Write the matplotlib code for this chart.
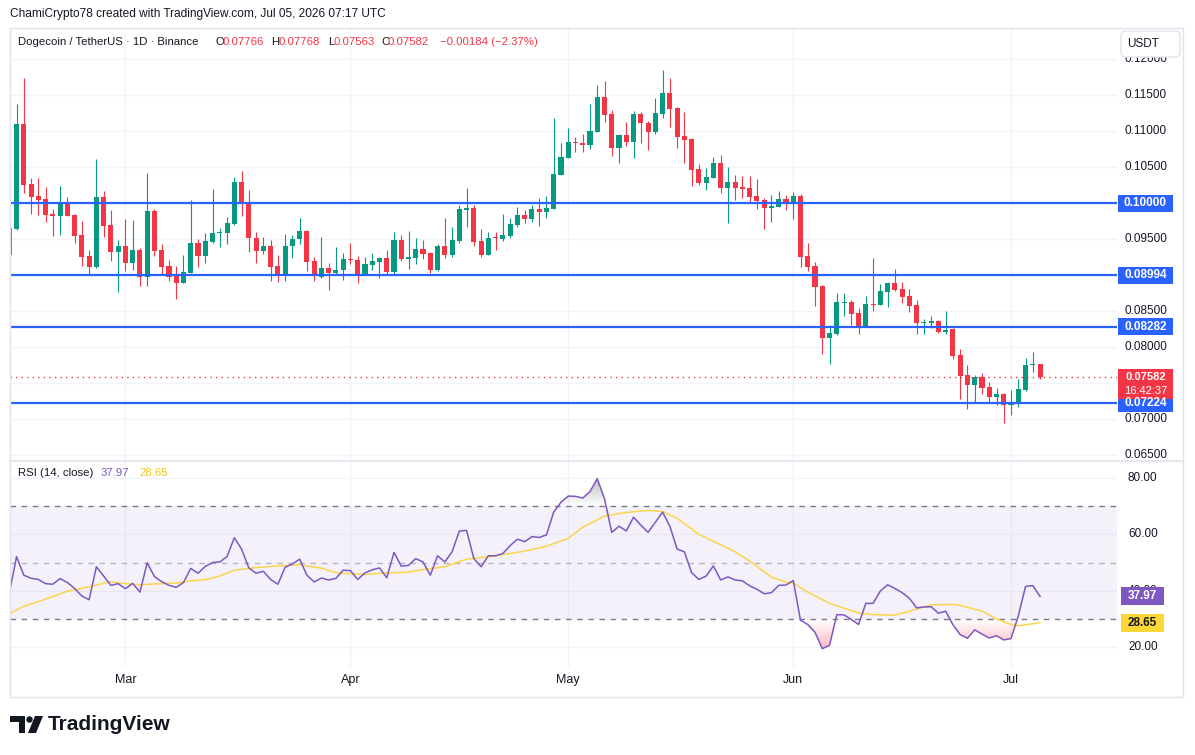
import numpy as np
import pandas as pd
import matplotlib
matplotlib.use('Agg')
import matplotlib.pyplot as plt
import matplotlib.transforms as mtrans
from matplotlib.patches import Rectangle, FancyBboxPatch, Polygon, Circle
from matplotlib.path import Path

plt.rcParams['font.family'] = ['Liberation Sans', 'DejaVu Sans']

# daily candles, first one is Feb 13 2026
start_date = '2026-02-13'
opens = [0.0928, 0.09639, 0.11096, 0.10264, 0.10097, 0.10056, 0.09851, 0.09820, 0.10000, 0.09833,
         0.09556, 0.09264, 0.09116, 0.10087, 0.09699, 0.09324, 0.09403, 0.09171, 0.09348, 0.08977,
         0.09889, 0.09348, 0.09126, 0.09001, 0.08894, 0.09033, 0.09449, 0.09264, 0.09463, 0.09580,
         0.09588, 0.09709, 0.10291, 0.09996, 0.09510, 0.09338, 0.09403, 0.09126, 0.09001, 0.09403,
         0.09496, 0.09616, 0.09195, 0.08977, 0.09098, 0.09024, 0.09070, 0.09223, 0.09209, 0.09015,
         0.09139, 0.09181, 0.09237, 0.09042, 0.09486, 0.09223, 0.09237, 0.09362, 0.09306, 0.09070,
         0.09403, 0.09278, 0.09473, 0.09903, 0.09931, 0.09473, 0.09278, 0.09528, 0.09500, 0.09542,
         0.09695, 0.09833, 0.09778, 0.09917, 0.09875, 0.09917, 0.10393, 0.10629, 0.10851, 0.10833,
         0.10805, 0.10990, 0.11471, 0.11235, 0.10768, 0.10944, 0.10847, 0.11235, 0.11110, 0.10985,
         0.11235, 0.11527, 0.11319, 0.10930, 0.10888, 0.10472, 0.10278, 0.10347, 0.10555, 0.10208,
         0.10291, 0.10226, 0.10208, 0.10097, 0.10042, 0.09935, 0.09949, 0.10056, 0.10018, 0.10097,
         0.09264, 0.09126, 0.08848, 0.08130, 0.08186, 0.08612, 0.08626, 0.08473, 0.08279, 0.08598,
         0.08584, 0.08765, 0.08890, 0.08806, 0.08709, 0.08584, 0.08334, 0.08334, 0.08362, 0.08210,
         0.08251, 0.07890, 0.07613, 0.07478, 0.07589, 0.07450, 0.07312, 0.07353, 0.07200, 0.07214,
         0.07409, 0.07756, 0.07766]
highs = [0.0968, 0.11374, 0.11739, 0.10347, 0.10347, 0.10226, 0.09917, 0.10236, 0.10088, 0.09847,
         0.09750, 0.09348, 0.10611, 0.10167, 0.09903, 0.09486, 0.09778, 0.09764, 0.09375, 0.10416,
         0.09917, 0.09431, 0.09209, 0.09126, 0.09278, 0.10042, 0.09500, 0.09588, 0.10199, 0.09653,
         0.09810, 0.10365, 0.10444, 0.10180, 0.09598, 0.09528, 0.09486, 0.09278, 0.09570, 0.09556,
         0.09792, 0.09625, 0.09255, 0.09528, 0.09167, 0.09389, 0.09302, 0.09445, 0.09264, 0.09250,
         0.09306, 0.09250, 0.09348, 0.09598, 0.09556, 0.09616, 0.09514, 0.09486, 0.09320, 0.09431,
         0.09792, 0.09667, 0.09972, 0.10208, 0.09972, 0.09639, 0.09598, 0.09598, 0.09847, 0.09792,
         0.09944, 0.09903, 0.09972, 0.10069, 0.10097, 0.11180, 0.10833, 0.11041, 0.10916, 0.10958,
         0.11374, 0.11638, 0.11693, 0.11291, 0.10958, 0.11124, 0.11277, 0.11263, 0.11138, 0.11457,
         0.11846, 0.11735, 0.11332, 0.11263, 0.10902, 0.10541, 0.10486, 0.10638, 0.10666, 0.10500,
         0.10389, 0.10375, 0.10375, 0.10333, 0.10074, 0.10111, 0.10167, 0.10111, 0.10153, 0.10125,
         0.09445, 0.09181, 0.08866, 0.08303, 0.08751, 0.08751, 0.08654, 0.08543, 0.08709, 0.09237,
         0.08876, 0.08904, 0.09084, 0.08904, 0.08806, 0.08654, 0.08390, 0.08432, 0.08376, 0.08501,
         0.08265, 0.07974, 0.07756, 0.07617, 0.07645, 0.07520, 0.07437, 0.07367, 0.07409, 0.07561,
         0.07853, 0.07936, 0.07768]
lows = [0.0925, 0.09625, 0.10143, 0.09847, 0.09833, 0.09736, 0.09542, 0.09556, 0.09820, 0.09449,
        0.09126, 0.09001, 0.09098, 0.09532, 0.09199, 0.08769, 0.09060, 0.09070, 0.08852, 0.08852,
        0.09269, 0.09001, 0.08917, 0.08672, 0.08894, 0.09033, 0.09116, 0.09171, 0.09440, 0.09394,
        0.09431, 0.09695, 0.09824, 0.09324, 0.09171, 0.09288, 0.08922, 0.08907, 0.08922, 0.09241,
        0.09435, 0.09060, 0.08922, 0.08963, 0.08792, 0.09015, 0.08931, 0.09153, 0.08894, 0.08997,
        0.09070, 0.08963, 0.09001, 0.09001, 0.09195, 0.09084, 0.09153, 0.09223, 0.09028, 0.09056,
        0.09237, 0.09250, 0.09445, 0.09667, 0.09403, 0.09250, 0.09278, 0.09348, 0.09473, 0.09514,
        0.09667, 0.09722, 0.09736, 0.09681, 0.09792, 0.09917, 0.10393, 0.10629, 0.10712, 0.10712,
        0.10749, 0.10990, 0.11124, 0.10652, 0.10555, 0.10791, 0.10625, 0.10833, 0.10736, 0.10958,
        0.11180, 0.11055, 0.10763, 0.10555, 0.10236, 0.10250, 0.10180, 0.10347, 0.10139, 0.09722,
        0.10042, 0.10069, 0.10014, 0.09921, 0.09643, 0.09740, 0.09949, 0.09907, 0.09782, 0.09116,
        0.09060, 0.08575, 0.07908, 0.07770, 0.08172, 0.08432, 0.08311, 0.08186, 0.08279, 0.08501,
        0.08584, 0.08557, 0.08779, 0.08612, 0.08487, 0.08182, 0.08182, 0.08265, 0.08196, 0.08182,
        0.07839, 0.07284, 0.07145, 0.07234, 0.07353, 0.07228, 0.07200, 0.06951, 0.07061, 0.07173,
        0.07395, 0.07658, 0.07563]
closes = [0.0965, 0.11096, 0.10250, 0.10087, 0.10042, 0.09833, 0.09824, 0.10000, 0.09820, 0.09542,
          0.09255, 0.09116, 0.10087, 0.09685, 0.09324, 0.09403, 0.09171, 0.09348, 0.08977, 0.09889,
          0.09338, 0.09116, 0.08977, 0.08894, 0.09042, 0.09449, 0.09264, 0.09473, 0.09588, 0.09602,
          0.09727, 0.10291, 0.09996, 0.09510, 0.09338, 0.09403, 0.09116, 0.09001, 0.09403, 0.09500,
          0.09611, 0.09185, 0.08987, 0.09098, 0.09033, 0.09070, 0.09223, 0.09209, 0.09015, 0.09153,
          0.09195, 0.09237, 0.09042, 0.09486, 0.09223, 0.09250, 0.09362, 0.09292, 0.09070, 0.09403,
          0.09278, 0.09486, 0.09917, 0.09931, 0.09459, 0.09278, 0.09514, 0.09514, 0.09556, 0.09709,
          0.09833, 0.09778, 0.09917, 0.09875, 0.09931, 0.10402, 0.10638, 0.10847, 0.10833, 0.10805,
          0.10999, 0.11471, 0.11221, 0.10768, 0.10944, 0.10847, 0.11235, 0.11110, 0.10985, 0.11249,
          0.11527, 0.11305, 0.10916, 0.10874, 0.10458, 0.10278, 0.10361, 0.10555, 0.10208, 0.10291,
          0.10208, 0.10194, 0.10087, 0.10032, 0.09935, 0.09963, 0.10056, 0.10018, 0.10097, 0.09255,
          0.09116, 0.08838, 0.08130, 0.08196, 0.08626, 0.08626, 0.08459, 0.08279, 0.08598, 0.08584,
          0.08779, 0.08890, 0.08792, 0.08695, 0.08570, 0.08334, 0.08348, 0.08362, 0.08210, 0.08237,
          0.07881, 0.07603, 0.07478, 0.07589, 0.07437, 0.07312, 0.07353, 0.07200, 0.07214, 0.07423,
          0.07756, 0.07766, 0.07582]

rsi = [39.0, 52.1, 45.5, 44.4, 44.0, 42.5, 42.3, 44.3, 42.9, 40.8,
       38.1, 36.8, 48.5, 45.2, 41.9, 42.5, 40.7, 42.6, 39.5, 49.9,
       45.0, 43.2, 41.9, 41.2, 42.9, 47.9, 46.2, 48.6, 50.0, 50.2,
       52.1, 58.8, 54.8, 48.1, 46.2, 46.9, 44.0, 42.3, 48.3, 49.5,
       51.2, 45.5, 43.1, 44.5, 43.8, 44.4, 47.3, 47.1, 44.0, 46.3,
       47.4, 48.1, 44.6, 53.6, 48.7, 49.0, 51.4, 50.2, 45.5, 52.4,
       50.2, 53.8, 61.2, 61.4, 51.4, 48.5, 52.4, 52.4, 53.2, 56.0,
       58.3, 57.4, 59.2, 58.9, 59.8, 67.9, 71.4, 73.6, 73.5, 72.9,
       75.2, 79.8, 72.6, 60.7, 62.9, 61.2, 66.1, 63.3, 60.7, 64.3,
       67.9, 62.9, 54.8, 53.8, 46.4, 44.0, 45.2, 48.8, 43.8, 44.9,
       43.8, 43.5, 41.7, 40.5, 38.9, 39.3, 41.9, 42.0, 43.6, 29.5,
       28.0, 25.2, 19.4, 20.6, 31.5, 31.4, 29.8, 28.0, 35.5, 35.5,
       39.9, 42.1, 40.8, 39.3, 37.3, 33.9, 34.2, 34.3, 32.0, 32.7,
       27.9, 24.4, 23.1, 26.1, 24.6, 23.2, 24.0, 22.5, 23.0, 31.0,
       41.5, 41.8, 37.97]

# RSI-based moving average, read at these candle indices
ma_idx = [0, 2, 5, 8, 11, 14, 16, 18, 20, 23, 25, 27, 29, 31, 34, 37, 40, 43, 45, 47,
          49, 52, 55, 57, 60, 63, 65, 67, 70, 72, 74, 77, 79, 82, 85, 88, 90, 92, 95, 97,
          100, 102, 105, 107, 108, 110, 113, 117, 119, 122, 124, 127, 130, 131, 134, 136, 138, 139, 142]
ma_val = [31.8, 34.5, 37.0, 39.8, 41.4, 43.2, 42.5, 42.1, 42.4, 42.7, 43.5, 43.9, 45.2, 47.3, 48.2,
          48.8, 49.2, 48.0, 46.4, 46.0, 45.8, 46.3, 46.6, 47.5, 48.5, 51.2, 51.7, 52.4, 53.6, 54.6,
          55.8, 58.6, 62.5, 66.5, 67.8, 68.5, 68.1, 65.7, 60.0, 57.5, 53.8, 50.5, 44.8, 43.0, 42.7,
          39.5, 35.5, 32.1, 31.5, 31.3, 32.7, 35.0, 35.1, 34.8, 32.7, 30.0, 28.0, 27.5, 28.65]

levels = [0.10000, 0.08994, 0.08282, 0.07224]
price_grid = [0.065, 0.070, 0.075, 0.080, 0.085, 0.090, 0.095, 0.100, 0.105, 0.110, 0.115, 0.120]
# labels not hidden behind a tag on the price scale
price_labels = [0.065, 0.070, 0.080, 0.085, 0.095, 0.105, 0.110, 0.115, 0.120]
rsi_ticks = [20, 40, 60, 80]
last_close = closes[-1]
countdown = '16:42:37'

TXT = '#131722'
RED = '#F23645'
GREEN = '#089981'
BLUE = '#2962FF'
PURPLE = '#7E57C2'
YELLOW = '#F9D64B'
GRID = '#F0F3FA'
BORDER = '#E0E3EB'

W, H = 1195, 755
fig = plt.figure(figsize=(W / 100, H / 100), dpi=100)
fig.patch.set_facecolor('white')
PX = mtrans.Affine2D().scale(1 / W, -1 / H).translate(0, 1) + fig.transFigure

ax = fig.add_axes([10 / W, 1 - 460 / H, 1107 / W, 432 / H])
rax = fig.add_axes([10 / W, 1 - 667 / H, 1107 / W, 205 / H])

o = np.array(opens)
h = np.array(highs)
l = np.array(lows)
c = np.array(closes)
x = np.arange(len(c))
dates = pd.date_range(start_date, periods=len(c), freq='D')
month_pos = x[dates.day == 1]
month_lbl = [d.strftime('%b') for d in dates[dates.day == 1]]

xlim = (0.1, 152.6)
for a in (ax, rax):
    a.set_xlim(*xlim)
    a.set_xticks([])
    a.set_yticks([])
    for s in a.spines.values():
        s.set_visible(False)
    for m in month_pos:
        a.axvline(m, color=GRID, lw=1, zorder=0)

# price panel
ax.set_ylim(0.06433, 0.12429)
for t in price_grid:
    ax.axhline(t, color=GRID, lw=1, zorder=0)
cols = np.where(c >= o, GREEN, RED)
ax.vlines(x, l, h, colors=cols, lw=0.8, zorder=2)
ax.bar(x, np.maximum(np.abs(c - o), 0.00014), bottom=np.minimum(o, c), width=0.7,
       color=cols, lw=0, zorder=3)
for v in levels:
    ax.axhline(v, color=BLUE, lw=1.6, zorder=4)
ax.axhline(last_close, color=RED, lw=1, ls=(0, (1, 3)), zorder=4)

ytr = ax.get_yaxis_transform()
for t in price_labels:
    ax.text((1125 - 10) / 1107, t, f'{t:.5f}', transform=ytr, fontsize=8.5, color=TXT,
            ha='left', va='center', clip_on=False)

# RSI panel
rax.set_ylim(12.9, 85.7)
for t in rsi_ticks:
    rax.axhline(t, color=GRID, lw=1, zorder=0)
rax.axhspan(30, 70, color=PURPLE, alpha=0.08, lw=0, zorder=0)
rax.axhline(70, color='#787B86', lw=1, ls=(0, (4, 4)), zorder=1)
rax.axhline(30, color='#787B86', lw=1, ls=(0, (4, 4)), zorder=1)
rax.axhline(50, color='#787B86', lw=1, ls=(0, (4, 4)), alpha=0.5, zorder=1)

r = np.array(rsi)


def grad_fill(a, base, above, rgb, amax, yend):
    mask = r > base if above else r < base
    poly = a.fill_between(x, r, base, where=mask, interpolate=True,
                          facecolor='none', edgecolor='none')
    paths = poly.get_paths()
    if not paths:
        return
    img = np.zeros((100, 1, 4))
    img[..., :3] = rgb
    if above:
        img[:, 0, 3] = np.linspace(0, amax, 100)
        ext = [x[0], x[-1], base, yend]
    else:
        img[:, 0, 3] = np.linspace(amax, 0, 100)
        ext = [x[0], x[-1], yend, base]
    im = a.imshow(img, extent=ext, origin='lower', aspect='auto', zorder=1)
    im.set_clip_path(Path.make_compound_path(*paths), transform=a.transData)


grad_fill(rax, 70, True, (0.45, 0.47, 0.47), 0.55, 81)
grad_fill(rax, 30, False, (0.95, 0.21, 0.27), 0.4, 18)
rax.set_xlim(*xlim)
rax.set_ylim(12.9, 85.7)

rax.plot(x, r, color=PURPLE, lw=1.1, zorder=3)
rax.plot(ma_idx, ma_val, color=YELLOW, lw=1.1, zorder=2)

rtr = rax.get_yaxis_transform()
for t in rsi_ticks:
    rax.text((1128 - 10) / 1107, t, f'{t:.2f}', transform=rtr, fontsize=8.5, color=TXT,
             ha='left', va='center', clip_on=False)

xtr = mtrans.blended_transform_factory(rax.transData, rax.transAxes)
for m, lb in zip(month_pos, month_lbl):
    rax.text(m, -0.063, lb, transform=xtr, fontsize=9, color=TXT, ha='center', va='center',
             clip_on=False)


# value tags on the right scale
def tag(a, v, txt, fc, tc, x0, w, hh, fs=8.5, bold=True):
    ypx = H - a.transData.transform((0, v))[1]
    fig.add_artist(Rectangle((x0, ypx - hh / 2), w, hh, transform=PX, facecolor=fc,
                             edgecolor='none', zorder=5))
    fig.text(x0 + w / 2, ypx, txt, transform=PX, fontsize=fs, color=tc, ha='center',
             va='center', fontweight='bold' if bold else 'normal', zorder=6)


for v in levels:
    tag(ax, v, f'{v:.5f}', BLUE, 'white', 1118, 55, 17)

ypx = H - ax.transData.transform((0, last_close))[1]
fig.add_artist(Rectangle((1118, ypx - 8), 55, 30, transform=PX, facecolor=RED,
                         edgecolor='none', zorder=5))
fig.text(1145.5, ypx - 0.5, f'{last_close:.5f}', transform=PX, fontsize=8, color='white',
         ha='center', va='center', fontweight='bold', zorder=6)
fig.text(1145.5, ypx + 14, countdown, transform=PX, fontsize=8, color='white',
         ha='center', va='center', zorder=6)

tag(rax, rsi[-1], f'{rsi[-1]:.2f}', PURPLE, 'white', 1121, 43, 18)
tag(rax, ma_val[-1], f'{ma_val[-1]:.2f}', '#FDD835', TXT, 1121, 43, 18)

# frame and separators
fig.add_artist(Rectangle((10, 28), 1173, 669, transform=PX, facecolor='none',
                         edgecolor=BORDER, lw=1, zorder=4))
fig.add_artist(plt.Line2D([10, 1183], [461, 461], transform=PX, color=BORDER, lw=1.2, zorder=4))

# USDT button
fig.add_artist(FancyBboxPatch((1121, 31), 59, 26, boxstyle='round,pad=0,rounding_size=5',
                              transform=PX, facecolor='white', edgecolor=BORDER, lw=1, zorder=5))
fig.text(1143, 44, 'USDT', transform=PX, fontsize=8.5, color=TXT, ha='center', va='center', zorder=6)

# header texts
fs_head = 8.2
fig.text(10, 14, 'ChamiCrypto78 created with TradingView.com, Jul 05, 2026 07:17 UTC',
         transform=PX, fontsize=8.6, color=TXT, va='center')
fig.text(18, 42, 'Dogecoin / TetherUS \u00b7 1D \u00b7 Binance', transform=PX, fontsize=fs_head,
         color=TXT, va='center')
ohlc_txt = [('O', 216, opens[-1], 223), ('H', 271, highs[-1], 279),
            ('L', 328, lows[-1], 334), ('C', 381, closes[-1], 388)]
for k, kx, val, vx in ohlc_txt:
    fig.text(kx, 42, k, transform=PX, fontsize=fs_head, color=TXT, va='center')
    fig.text(vx, 42, f'{val:.5f}', transform=PX, fontsize=fs_head, color=RED, va='center')
chg = closes[-1] - opens[-1]
pct = chg / opens[-1] * 100
fig.text(440, 42, f'\u2212{abs(chg):.5f} (\u2212{abs(pct):.2f}%)', transform=PX, fontsize=fs_head,
         color=RED, va='center')

fig.text(18, 473, 'RSI (14, close)', transform=PX, fontsize=fs_head, color=TXT, va='center')
fig.text(101, 473, f'{rsi[-1]:.2f}', transform=PX, fontsize=fs_head, color=PURPLE, va='center')
fig.text(139, 473, f'{ma_val[-1]:.2f}', transform=PX, fontsize=fs_head, color='#F5C518', va='center')

# TradingView logo
fig.add_artist(Polygon([(10, 716), (25, 716), (25, 733), (19, 733), (19, 722), (10, 722)],
                       closed=True, transform=PX, facecolor=TXT, edgecolor='none'))
fig.add_artist(Circle((29.5, 719.5), 3.2, transform=PX, facecolor=TXT, edgecolor='none'))
fig.add_artist(Polygon([(35, 716), (43, 716), (36, 733), (28, 733)],
                       closed=True, transform=PX, facecolor=TXT, edgecolor='none'))
fig.text(48, 724, 'TradingView', transform=PX, fontsize=15, fontweight='bold', color=TXT,
         va='center')

fig.savefig('out.png', dpi=100)
